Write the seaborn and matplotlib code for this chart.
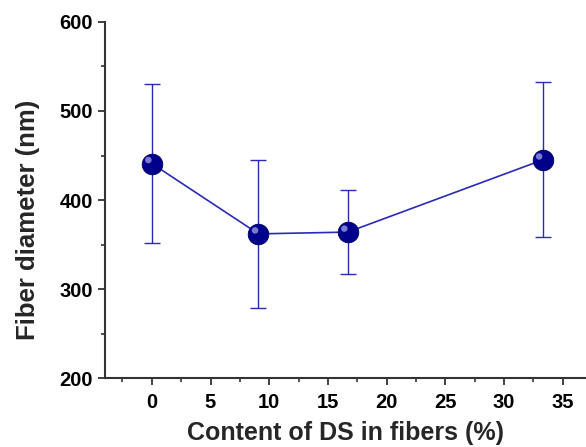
import matplotlib
matplotlib.use("Agg")
import matplotlib.pyplot as plt
import matplotlib.transforms as mtransforms
import seaborn as sns
import pandas as pd
import numpy as np

content = [0, 9.09, 16.7, 33.3]
diameter = [441, 362, 364, 445]
err_low = [352, 279, 317, 358]
err_high = [530, 445, 411, 532]

sns.set_style("ticks")
plt.rcParams['font.family'] = ['Liberation Sans', 'DejaVu Sans']
plt.rcParams['font.weight'] = 'bold'

df = pd.DataFrame({"content": content, "diameter": diameter})

fig = plt.figure(figsize=(5.86, 4.47), dpi=100)
ax = fig.add_axes([0.179, 0.154, 0.821, 0.797])

line_color = "#2a2ab8"
yerr = np.array([np.array(diameter) - np.array(err_low),
                 np.array(err_high) - np.array(diameter)])
ax.errorbar(content, diameter, yerr=yerr, fmt='none', ecolor=line_color,
            elinewidth=1.0, capsize=6, capthick=1.0, zorder=2)
sns.lineplot(data=df, x="content", y="diameter", ax=ax, color=line_color,
             linewidth=1.2, zorder=3)
ax.scatter(content, diameter, s=220, color="#00008b", edgecolor="#000060",
           linewidth=0.6, zorder=4)
offset = mtransforms.ScaledTranslation(-2.5 / 72, 2.5 / 72, fig.dpi_scale_trans)
ax.scatter(content, diameter, s=22, color="#9a9ae8", edgecolor='none',
           alpha=0.8, zorder=5, transform=ax.transData + offset)

ax.set_xlim(-4, 37)
ax.set_ylim(200, 600)
ax.set_xticks([0, 5, 10, 15, 20, 25, 30, 35])
ax.set_xticks(np.arange(-2.5, 37, 5), minor=True)
ax.set_yticks([200, 300, 400, 500, 600])
ax.set_yticks([250, 350, 450, 550], minor=True)

ax.set_xlabel("Content of DS in fibers (%)", fontsize=18, fontweight='bold', labelpad=6)
ax.set_ylabel("Fiber diameter (nm)", fontsize=18.5, fontweight='bold')
ax.yaxis.set_label_coords(-0.135, 0.444)

for lab in ax.get_xticklabels() + ax.get_yticklabels():
    lab.set_fontweight('bold')
ax.tick_params(axis='both', which='major', labelsize=14.5, length=5, width=1.3,
               direction='out', colors='#333333', labelcolor='black')
ax.tick_params(axis='x', which='major', pad=6)
ax.tick_params(axis='both', which='minor', length=3, width=1.2, direction='out',
               colors='#333333')

for s in ['top', 'right']:
    ax.spines[s].set_visible(False)
for s in ['left', 'bottom']:
    ax.spines[s].set_linewidth(1.5)
    ax.spines[s].set_color('#333333')

fig.savefig("out.png", dpi=100)
